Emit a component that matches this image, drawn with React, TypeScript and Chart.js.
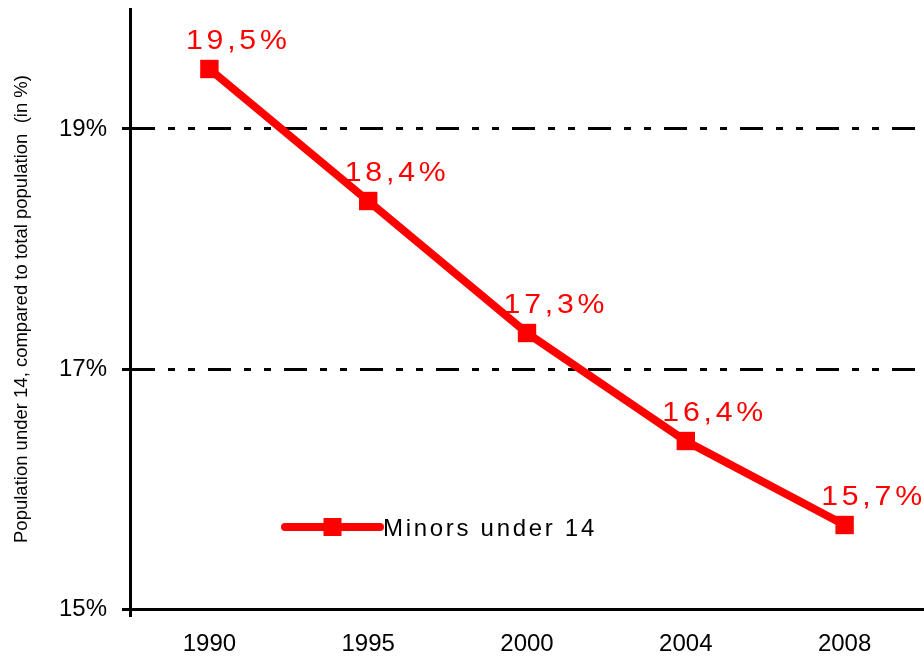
import React, { useEffect, useRef } from 'react';
import { Chart, registerables } from 'chart.js';

Chart.register(...registerables);

const years = ['1990', '1995', '2000', '2004', '2008'];
const minorsShare = [19.5, 18.4, 17.3, 16.4, 15.7];
const yTickValues = [15, 17, 19];
const seriesLabel = 'Minors under 14';
const yAxisTitle = 'Population under 14, compared to total population  (in %)';

const RED = '#ff0000';
const FONT = "'Liberation Sans', Arial, sans-serif";

const valueLabels = {
  id: 'valueLabels',
  afterDatasetsDraw(chart: any) {
    const ctx = chart.ctx;
    const meta = chart.getDatasetMeta(0);
    meta.data.forEach((pt: any, i: number) => {
      const txt = minorsShare[i].toFixed(1).replace('.', ',') + '%';
      ctx.save();
      ctx.font = `28px ${FONT}`;
      ctx.fillStyle = RED;
      ctx.textAlign = 'center';
      ctx.textBaseline = 'alphabetic';
      ctx.letterSpacing = '3.5px';
      ctx.translate(pt.x + 27, pt.y - 20);
      ctx.scale(1.08, 1);
      ctx.fillText(txt, 1.75, 0);
      ctx.letterSpacing = '0px';
      ctx.restore();
    });
  },
};

const innerLegend = {
  id: 'innerLegend',
  afterDraw(chart: any) {
    const ctx = chart.ctx;
    const { left, bottom } = chart.chartArea;
    const y = bottom - 82;
    const x0 = left + 155;
    const x1 = left + 250;
    ctx.save();
    ctx.strokeStyle = RED;
    ctx.lineWidth = 8;
    ctx.lineCap = 'round';
    ctx.beginPath();
    ctx.moveTo(x0, y);
    ctx.lineTo(x1, y);
    ctx.stroke();
    ctx.fillStyle = RED;
    ctx.fillRect((x0 + x1) / 2 - 9, y - 9, 18, 18);
    ctx.fillStyle = '#000';
    ctx.font = `24px ${FONT}`;
    ctx.letterSpacing = '2.7px';
    ctx.textAlign = 'left';
    ctx.textBaseline = 'middle';
    ctx.fillText(seriesLabel, x1 + 3, y + 2);
    ctx.letterSpacing = '0px';
    ctx.restore();
  },
};

export default function App() {
  const ref = useRef<HTMLCanvasElement | null>(null);

  useEffect(() => {
    document.body.style.margin = '0';
    const canvas = ref.current;
    if (!canvas) return;
    const chart = new Chart(canvas, {
      type: 'line',
      data: {
        labels: years,
        datasets: [
          {
            label: seriesLabel,
            data: minorsShare,
            borderColor: RED,
            backgroundColor: RED,
            borderWidth: 8,
            pointStyle: 'rect',
            pointRadius: 13,
            pointHoverRadius: 13,
            pointBackgroundColor: RED,
            pointBorderColor: RED,
            pointBorderWidth: 0,
            tension: 0,
            fill: false,
            clip: false,
          },
        ],
      },
      options: {
        responsive: false,
        animation: false,
        devicePixelRatio: 1,
        layout: { autoPadding: false, padding: { top: 9, left: 0, right: 0, bottom: 0 } },
        plugins: {
          legend: { display: false },
          tooltip: { enabled: false },
          title: { display: false },
        },
        scales: {
          x: {
            type: 'category',
            offset: true,
            border: { display: true, color: '#000', width: 3 },
            grid: {
              display: true,
              offset: true,
              drawOnChartArea: false,
              drawTicks: true,
              tickLength: 8,
              tickWidth: 3,
              tickColor: (c: any) => (c.index === 0 ? '#000' : 'rgba(0,0,0,0)'),
            },
            ticks: {
              color: '#000',
              font: { family: FONT, size: 24 },
              padding: 13,
              maxRotation: 0,
              autoSkip: false,
            },
            afterFit: (s: any) => {
              s.height = 47;
              s.paddingLeft = 0;
              s.paddingRight = 0;
            },
          },
          y: {
            type: 'linear',
            min: 15,
            max: 20,
            afterBuildTicks: (s: any) => {
              s.ticks = yTickValues.map((v) => ({ value: v }));
            },
            border: { display: true, color: '#000', width: 3, dash: [23, 13, 7, 13, 7, 13] },
            grid: {
              color: '#000',
              lineWidth: 3,
              tickLength: 8,
              tickWidth: 3,
              tickColor: '#000',
              tickBorderDash: [],
            },
            ticks: {
              color: '#000',
              font: { family: FONT, size: 24 },
              padding: 15,
              callback: (v: any) => `${v}%`,
            },
            title: {
              display: true,
              text: yAxisTitle,
              color: '#000',
              font: { family: FONT, size: 18.5 },
              padding: { top: 11, bottom: 0 },
            },
            afterFit: (s: any) => {
              s.width = 130;
              s.paddingTop = 0;
              s.paddingBottom = 0;
            },
          },
        },
      },
      plugins: [valueLabels, innerLegend],
    });
    return () => chart.destroy();
  }, []);

  return (
    <div style={{ width: 924, height: 656, position: 'relative' }}>
      <canvas ref={ref} width={924} height={656} style={{ display: 'block', width: 924, height: 656 }} />
    </div>
  );
}
